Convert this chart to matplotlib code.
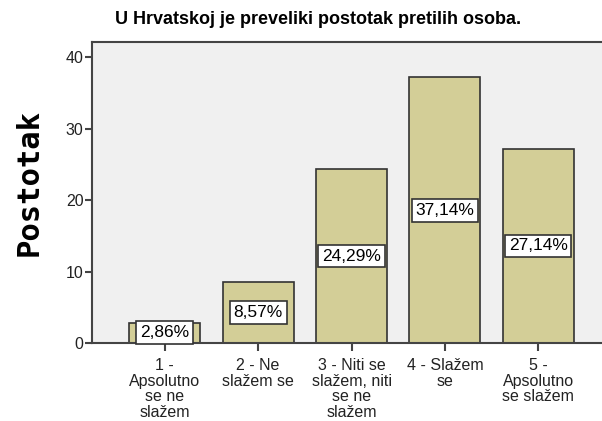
import matplotlib
matplotlib.use("Agg")
import matplotlib.pyplot as plt

categories = ["1 -\nApsolutno\nse ne\nslažem", "2 - Ne\nslažem se", "3 - Niti se\nslažem, niti\nse ne\nslažem",
              "4 - Slažem\nse", "5 -\nApsolutno\nse slažem"]
values = [2.86, 8.57, 24.29, 37.14, 27.14]
labels = ["2,86%", "8,57%", "24,29%", "37,14%", "27,14%"]
yticks = [0, 10, 20, 30, 40]
title = "U Hrvatskoj je preveliki postotak pretilih osoba."
ylabel = "Postotak"

W, H = 602, 421
fig = plt.figure(figsize=(W / 100, H / 100), dpi=100)
fig.patch.set_facecolor("white")
left, right, top, bottom = 92, 611, 42, 343
ax = fig.add_axes([left / W, 1 - bottom / H, (right - left) / W, (bottom - top) / H])
ax.set_facecolor("#F0F0F0")

x = list(range(len(values)))
ax.bar(x, values, width=0.76, color="#D3CE97", edgecolor="#333333", linewidth=1.2, zorder=2)
for xi, v, lab in zip(x, values, labels):
    ax.text(xi, v / 2, lab, ha="center", va="center", fontsize=12.5, family="Liberation Sans",
            color="black", zorder=3,
            bbox=dict(boxstyle="square,pad=0.22", facecolor="white", edgecolor="#333333", linewidth=1.2))

ax.set_xlim(-0.78, 4.78)
ax.set_ylim(0, 42.1)
ax.set_yticks(yticks)
ax.set_yticklabels([str(t) for t in yticks], fontsize=11.5, family="Liberation Sans", color="#222222")
ax.set_xticks(x)
ax.set_xticklabels(categories, fontsize=11.5, family="Liberation Sans", color="#222222", linespacing=1.05)
ax.tick_params(axis="y", direction="out", length=5, width=1.5, color="#444444", pad=1)
ax.tick_params(axis="x", direction="out", length=6, width=1.5, color="#444444", pad=5)
for s in ["left", "top", "bottom"]:
    ax.spines[s].set_color("#444444")
    ax.spines[s].set_linewidth(1.5)
ax.spines["right"].set_visible(False)

fig.text(318 / W, 1 - 19 / H, title, ha="center", va="center", fontsize=13, fontweight="bold",
         family="Liberation Sans")
fig.text(29 / W, 1 - 183 / H, ylabel, ha="center", va="center", rotation=90, fontsize=22,
         fontweight="bold", family="DejaVu Sans Mono")

fig.savefig("out.png", dpi=100)
